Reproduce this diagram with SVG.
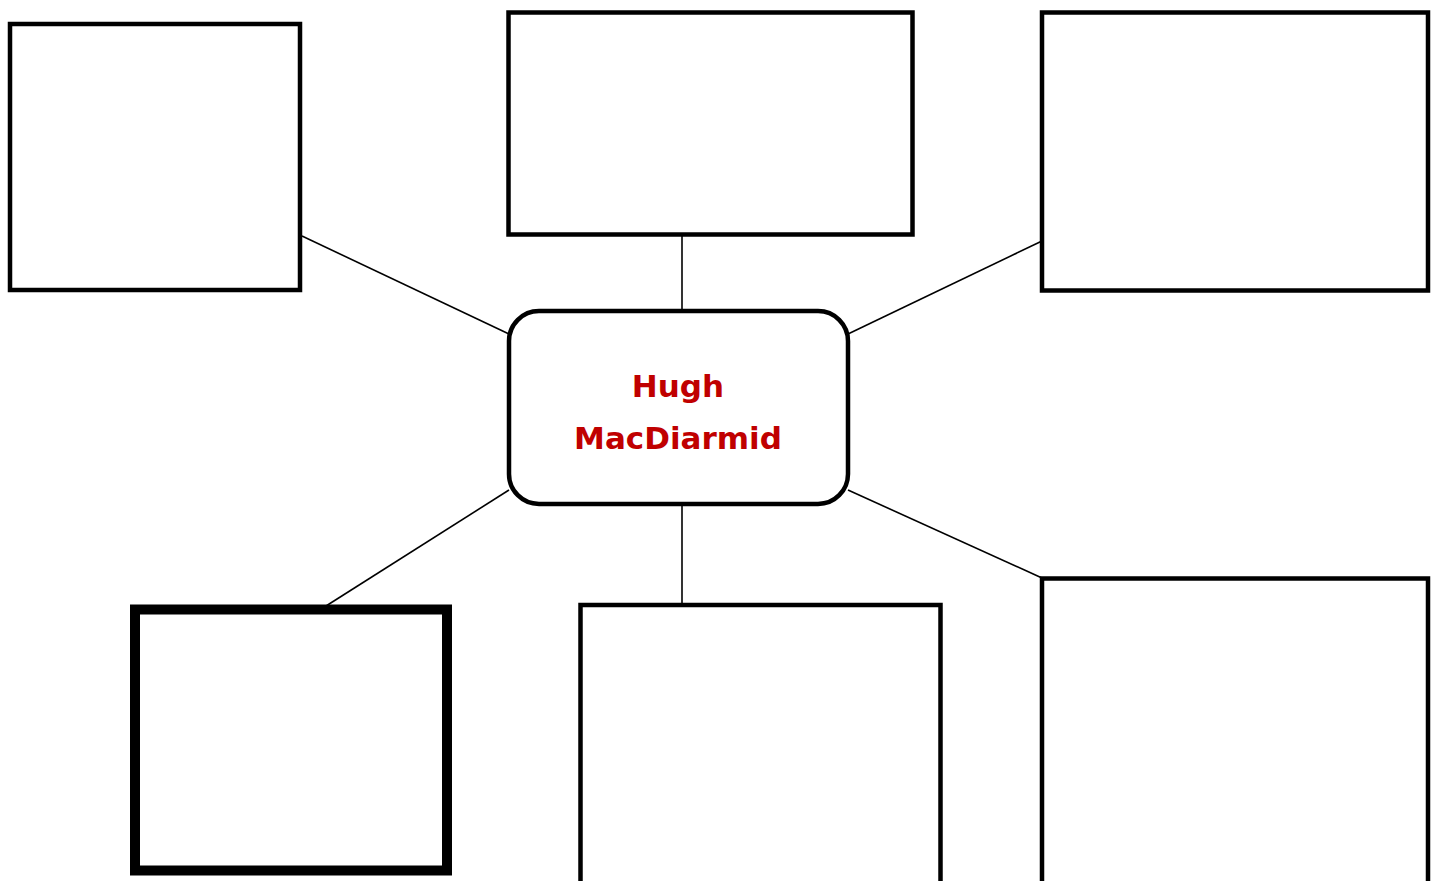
<svg xmlns="http://www.w3.org/2000/svg" width="1439" height="881" viewBox="0 0 1439 881">
<style>
.box{fill:#fff;stroke:#000;stroke-width:4.5}
.thick{fill:#fff;stroke:#000;stroke-width:10}
.conn line{stroke:#000;stroke-width:1.6}
.lbl{font-family:"DejaVu Sans","Liberation Sans",sans-serif;font-weight:bold;font-size:31px;fill:#c00000;text-anchor:middle}
</style>
<rect width="1439" height="881" fill="#fff"/>
<g id="connectors" class="conn">
<line x1="302" y1="236" x2="509" y2="334"/>
<line x1="682" y1="234" x2="682" y2="311"/>
<line x1="848" y1="334" x2="1042" y2="241"/>
<line x1="509" y1="490" x2="326" y2="606"/>
<line x1="682" y1="504" x2="682" y2="605"/>
<line x1="848" y1="490" x2="1042" y2="578"/>
</g>
<g id="box-top-left"><rect class="box" x="10" y="24" width="290" height="266"/></g>
<g id="box-top-middle"><rect class="box" x="508.5" y="12.5" width="404" height="222"/></g>
<g id="box-top-right"><rect class="box" x="1042" y="12.5" width="386" height="278"/></g>
<g id="box-bottom-left"><rect class="thick" x="135" y="609.5" width="312" height="261"/></g>
<g id="box-bottom-middle"><rect class="box" x="580.5" y="605" width="360" height="290"/></g>
<g id="box-bottom-right"><rect class="box" x="1042" y="578.5" width="386" height="320"/></g>
<g id="center">
<rect class="box" x="509" y="311" width="339" height="193" rx="30" ry="30"/>
<text class="lbl" x="678" y="397">Hugh</text>
<text class="lbl" x="678" y="449">MacDiarmid</text>
</g>
</svg>
